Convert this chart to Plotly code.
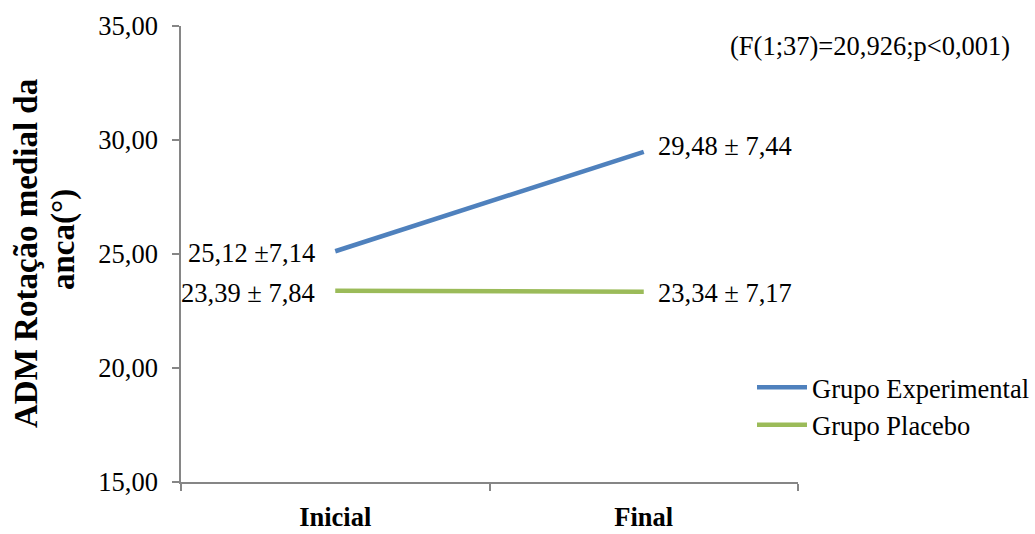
import plotly.graph_objects as go

# Hip medial rotation range of motion (degrees), before and after
momentos = ["Inicial", "Final"]
experimental = [25.12, 29.48]
placebo = [23.39, 23.34]
rotulos_experimental = ["25,12 ±7,14", "29,48 ± 7,44"]
rotulos_placebo = ["23,39 ± 7,84", "23,34 ± 7,17"]
y_ticks = [15, 20, 25, 30, 35]
y_tick_labels = ["15,00", "20,00", "25,00", "30,00", "35,00"]

FONT = "Liberation Serif"
TAM = 26.5
AZUL = "#4F81BD"
VERDE = "#9BBB59"
EIXO = "#868686"

# plot area in pixels
L, R, T, B = 181, 237, 26, 52
W, H = 1035, 534
PW, PH = W - L - R, H - T - B


def px_x(x):
    return (x - L) / PW


def px_y(y):
    return (H - B - y) / PH


fig = go.Figure()
fig.add_trace(go.Scatter(x=momentos, y=experimental, mode="lines",
                         name="Grupo Experimental",
                         line=dict(color=AZUL, width=4.5)))
fig.add_trace(go.Scatter(x=momentos, y=placebo, mode="lines",
                         name="Grupo Placebo",
                         line=dict(color=VERDE, width=4.5)))

txt = dict(family=FONT, size=TAM, color="black")

# Mean ± SD labels beside each point
anot = []
desloc_exp = [(-18, -2), (12, 6)]
desloc_pla = [(-18, -2), (12, -1)]
for i, m in enumerate(momentos):
    lado = "right" if i == 0 else "left"
    dx, dy = desloc_exp[i]
    anot.append(dict(x=m, y=experimental[i], text=rotulos_experimental[i],
                     xanchor=lado, yanchor="middle", xshift=dx, yshift=dy,
                     showarrow=False, font=txt))
    dx, dy = desloc_pla[i]
    anot.append(dict(x=m, y=placebo[i], text=rotulos_placebo[i],
                     xanchor=lado, yanchor="middle", xshift=dx, yshift=dy,
                     showarrow=False, font=txt))

# F-test result
anot.append(dict(x=px_x(1012), y=px_y(46), xref="paper", yref="paper",
                 xanchor="right", yanchor="middle",
                 text="(F(1;37)=20,926;p<0,001)", showarrow=False, font=txt))

# Y axis title, two lines
titulo = dict(family=FONT, size=33, color="black")
anot.append(dict(x=px_x(26), y=px_y(254), xref="paper", yref="paper",
                 xanchor="center", yanchor="middle", textangle=-90,
                 text="<b>ADM Rotação medial da</b>", showarrow=False,
                 font=titulo))
anot.append(dict(x=px_x(63), y=px_y(240), xref="paper", yref="paper",
                 xanchor="center", yanchor="middle", textangle=-90,
                 text="<b>anca(°)</b>", showarrow=False, font=titulo))

fig.update_layout(
    width=W, height=H,
    margin=dict(l=L, r=R, t=T, b=B, autoexpand=False),
    paper_bgcolor="white", plot_bgcolor="white",
    font=txt,
    showlegend=True,
    legend=dict(x=px_x(752), xanchor="left", y=px_y(406), yanchor="middle",
                font=txt, bgcolor="rgba(0,0,0,0)", itemwidth=50,
                tracegroupgap=0),
    xaxis=dict(type="category", range=[-0.5, 1.5], showgrid=False,
               showline=True, linecolor=EIXO, linewidth=1.5,
               ticks="outside", tickson="boundaries", ticklen=7,
               tickcolor=EIXO, tickwidth=1.5,
               tickfont=dict(family=FONT, size=TAM, color="black"),
               tickprefix="<b>", ticksuffix="</b>", zeroline=False,
               ticklabelstandoff=10),
    yaxis=dict(range=[15, 35], tickvals=y_ticks, ticktext=y_tick_labels,
               showgrid=False, showline=True, linecolor=EIXO, linewidth=1.5,
               ticks="outside", ticklen=7, tickcolor=EIXO, tickwidth=1.5,
               tickfont=dict(family=FONT, size=TAM, color="black"),
               zeroline=False, ticklabelstandoff=9),
    annotations=anot,
)

fig.write_html("out.html")
